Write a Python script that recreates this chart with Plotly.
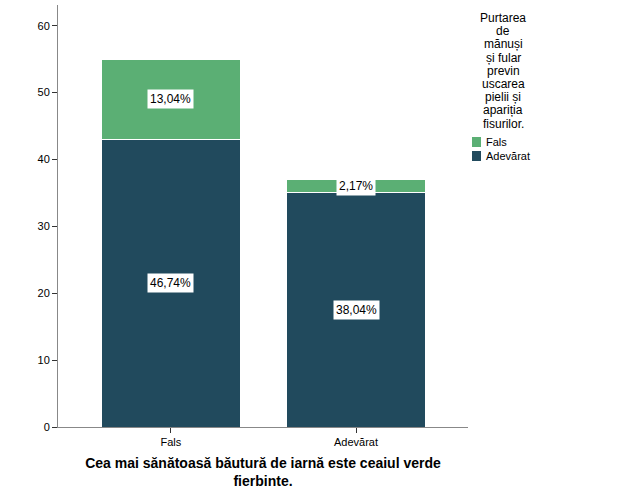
import plotly.graph_objects as go

categories = ["Fals", "Adevărat"]
adevarat_counts = [43, 35]
fals_counts = [12, 2]
adevarat_labels = ["46,74%", "38,04%"]
fals_labels = ["13,04%", "2,17%"]
legend_title_lines = ["Purtarea", "de", "mănuși", "și fular", "previn", "uscarea", "pielii și", "apariția", "fisurilor."]
legend_items = ["Fals", "Adevărat"]
x_title = "Cea mai sănătoasă băutură de iarnă este ceaiul verde<br>fierbinte."

dark = "#214A5D"
green = "#5BAF74"
font = "Liberation Sans, Arial, sans-serif"

L, R, T, B = 58, 468, 5, 427
def px(xp):
    return (xp - L) / (R - L)
def py(yp):
    return (B - yp) / (B - T)

fig = go.Figure()
fig.add_trace(go.Bar(x=categories, y=adevarat_counts, name="Adevărat", marker=dict(color=dark, line=dict(color="white", width=1)), width=0.75))
fig.add_trace(go.Bar(x=categories, y=fals_counts, name="Fals", marker=dict(color=green, line=dict(color="white", width=1)), width=0.75))

for i, c in enumerate(categories):
    fig.add_annotation(x=c, y=adevarat_counts[i] / 2, text=adevarat_labels[i], showarrow=False,
                       bgcolor="white", borderpad=2, font=dict(size=12, color="black", family=font))
    fig.add_annotation(x=c, y=adevarat_counts[i] + fals_counts[i] / 2, text=fals_labels[i], showarrow=False,
                       bgcolor="white", borderpad=2, font=dict(size=12, color="black", family=font))

# legend title (line by line for tight spacing)
for k, line in enumerate(legend_title_lines):
    fig.add_annotation(xref="paper", yref="paper", x=px(503), y=py(18 + 13.2 * k), xanchor="center", yanchor="middle",
                       text=line, showarrow=False, font=dict(size=12, color="black", family=font))

# legend entries
colors = {"Fals": green, "Adevărat": dark}
for k, name in enumerate(legend_items):
    yc = 142 + 14 * k
    fig.add_shape(type="rect", xref="paper", yref="paper", x0=px(472), x1=px(481), y0=py(yc + 5), y1=py(yc - 5),
                  fillcolor=colors[name], line=dict(width=0))
    fig.add_annotation(xref="paper", yref="paper", x=px(484), y=py(yc), xanchor="left", yanchor="middle",
                       text=name, showarrow=False, font=dict(size=11, color="black", family=font))

fig.update_layout(
    barmode="stack",
    width=625, height=500,
    margin=dict(l=L, r=625 - R, t=T, b=500 - B),
    plot_bgcolor="white", paper_bgcolor="white",
    font=dict(family=font, size=11, color="black"),
    showlegend=False,
    bargap=0.25,
)
fig.update_xaxes(range=[-0.61, 1.605], showline=True, linecolor="#888888", linewidth=1,
                 ticks="outside", ticklen=5, tickcolor="#333333", showgrid=False,
                 title=dict(text="<b>" + x_title + "</b>", font=dict(size=14, family=font), standoff=10),
                 tickfont=dict(size=11, color="black"))
fig.update_yaxes(range=[0, 63.1], showline=True, linecolor="#888888", linewidth=1,
                 ticks="outside", ticklen=5, tickcolor="#333333", showgrid=False,
                 tickvals=[0, 10, 20, 30, 40, 50, 60], zeroline=False, tickfont=dict(size=11, color="black"))

fig.write_html("out.html")
